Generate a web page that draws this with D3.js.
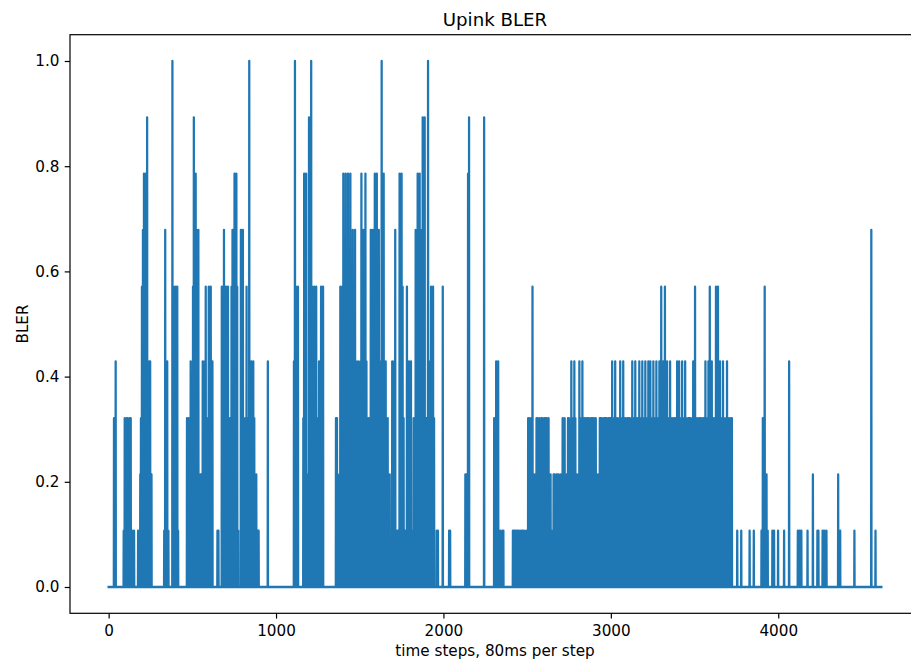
<!DOCTYPE html>
<html>
<head>
<meta charset="utf-8">
<script src="https://cdn.jsdelivr.net/npm/d3@7"></script>
<style>
  body { margin: 0; background: #ffffff; }
  svg { display: block; }
  text { font-family: "DejaVu Sans", sans-serif; fill: #000; }
</style>
</head>
<body>
<svg id="chart" width="911" height="664"></svg>
<script>
// Uplink block error rate per 80 ms step; every step not listed below is 0.
const lastStep = 4616;

// [step, BLER] for the steps where errors were recorded
const blerSpikes = [
  [32,.321],[42,.429],
  [90,.107],[96,.321],[102,.107],[108,.321],[114,.321],[120,.107],[126,.321],[132,.321],[140,.107],[152,.107],
  [176,.107],[185,.107],[189,.214],[193,.321],[199,.571],[205,.679],[211,.786],[217,.321],[222,.786],[230,.893],[236,.321],[242,.429],[248,.429],[252,.214],[256,.214],
  [332,.107],[338,.679],[344,.429],[350,.429],[357,.107],
  [381,1],[388,.571],[394,.321],[400,.571],[406,.107],[410,.571],[415,.107],
  [468,.321],[478,.321],[490,.429],[497,.321],[504,.571],[509,.893],[515,.429],[520,.786],[526,.679],[532,.321],[536,.679],[542,.107],[548,.214],[554,.214],[562,.429],[568,.214],[574,.429],[580,.571],[586,.321],[592,.321],[598,.571],[604,.214],[610,.571],[615,.429],[620,.429],
  [650,.107],[656,.107],
  [676,.571],[682,.214],[689,.679],[695,.321],[701,.571],[707,.321],[713,.571],[719,.321],[725,.321],[734,.571],[740,.679],[746,.429],[752,.786],[758,.321],[763,.786],[768,.571],[774,.107],
  [790,.679],[796,.321],[802,.679],[807,.321],[813,.214],[818,.321],[824,.571],[831,.321],[840,1],[846,.429],[852,.429],[858,.321],[864,.429],[870,.321],[876,.214],[882,.214],[890,.107],[896,.107],
  [951,.429],
  [1107,.429],[1113,1],[1119,.571],[1125,.321],[1131,.571],
  [1163,.321],[1168,.786],[1174,.321],[1180,.786],[1186,.214],[1192,.214],[1197,.893],[1203,.321],[1210,1],[1216,.571],[1222,.321],[1228,.571],[1234,.214],[1240,.571],[1246,.321],[1251,.321],[1257,.429],[1263,.321],[1269,.571],[1275,.214],[1281,.571],
  [1358,.321],[1364,.321],[1372,.107],[1378,.214],
  [1384,.571],[1390,.321],[1396,.571],[1402,.786],[1409,.429],[1416,.786],[1423,.429],[1430,.786],[1437,.321],[1444,.786],[1451,.429],[1458,.679],[1465,.321],[1472,.679],[1478,.429],[1484,.214],[1490,.429],[1496,.321],[1503,.429],[1510,.786],[1516,.321],[1522,.679],[1528,.429],[1534,.786],[1540,.429],[1547,.321],[1553,.321],
  [1566,.679],[1572,.321],[1578,.679],[1584,.429],[1590,.786],[1596,.429],[1602,.786],[1608,.321],[1614,.679],[1620,.429],[1631,1],[1637,.429],[1643,.786],[1649,.321],[1655,.429],[1661,.321],[1667,.321],[1673,.214],[1679,.214],
  [1694,.429],[1700,.321],[1706,.429],[1712,.679],[1718,.107],[1724,.107],[1730,.107],[1738,.786],[1744,.429],[1750,.786],[1756,.571],[1762,.321],[1770,.107],[1776,.107],[1782,.571],[1788,.321],[1794,.429],[1800,.321],[1806,.429],[1812,.107],[1818,.107],[1822,.321],[1828,.321],[1834,.679],[1840,.429],[1846,.786],[1852,.321],[1858,.786],[1864,.429],[1870,.679],[1876,.893],[1882,.429],[1888,.893],[1894,.321],[1900,.321],[1908,1],[1914,.429],[1920,.429],[1926,.571],[1932,.321],[1938,.571],[1944,.321],
  [1960,.107],[1967,.107],[1996,.571],[2034,.107],[2040,.107],
  [2131,.214],[2137,.214],[2147,.786],[2153,.893],
  [2243,.893],
  [2303,.321],[2309,.321],[2315,.429],[2321,.321],[2327,.429],[2333,.107],[2339,.107],[2352,.107],[2358,.107],
  [2415,.107],[2421,.107],[2427,.107],[2433,.107],[2439,.107],[2445,.107],[2451,.107],[2463,.107],[2469,.107],[2475,.107],[2481,.107],[2494,.107],[2500,.107],
  [2506,.321],[2512,.321],[2518,.214],[2524,.321],[2532,.571],[2538,.214],[2544,.214],[2550,.214],[2556,.321],[2562,.321],[2568,.214],[2574,.321],[2580,.214],[2586,.321],[2592,.321],[2598,.214],[2604,.321],[2610,.321],[2616,.321],[2622,.214],[2628,.321],[2634,.214],[2640,.214],[2646,.107],[2652,.107],
  [2658,.214],[2664,.214],[2670,.107],[2676,.214],[2682,.214],[2688,.214],[2694,.107],[2700,.214],[2706,.214],[2712,.321],[2718,.214],[2724,.321],[2730,.214],[2736,.214],[2744,.321],[2750,.321],[2756,.214],[2764,.429],[2770,.321],[2776,.321],[2782,.429],[2788,.321],[2794,.214],[2800,.214],[2806,.214],[2812,.429],[2818,.321],[2824,.321],[2830,.429],
  [2838,.321],[2844,.321],[2850,.214],[2856,.321],[2862,.321],[2868,.321],[2874,.214],[2880,.321],[2886,.321],[2892,.321],[2898,.321],[2904,.214],[2910,.321],[2916,.214],[2922,.214],[2928,.107],[2934,.321],[2940,.321],[2946,.321],[2952,.214],[2958,.321],[2964,.321],[2970,.321],[2976,.321],[2982,.214],[2988,.321],[2994,.321],[3000,.321],
  [3008,.429],[3014,.321],[3020,.321],[3026,.429],[3032,.321],[3038,.321],[3044,.214],[3050,.321],[3056,.429],[3062,.321],[3068,.321],[3074,.429],[3080,.321],[3086,.321],[3092,.214],[3098,.321],[3104,.321],[3110,.321],[3116,.214],[3122,.321],
  [3128,.429],[3134,.321],[3140,.321],[3146,.429],[3152,.321],[3158,.321],[3164,.214],[3170,.429],[3176,.321],[3182,.321],[3188,.429],[3194,.321],[3200,.321],[3206,.429],[3212,.321],[3218,.321],[3224,.429],[3230,.321],[3236,.429],[3242,.321],[3248,.214],
  [3254,.429],[3260,.321],[3266,.321],[3272,.429],[3278,.321],[3284,.321],[3290,.429],[3296,.321],[3301,.571],[3307,.321],[3313,.429],[3319,.321],[3323,.571],[3329,.321],[3336,.429],[3342,.321],[3348,.321],[3354,.429],[3360,.321],[3366,.321],[3372,.214],[3378,.321],[3384,.321],[3390,.321],
  [3396,.429],[3402,.321],[3408,.429],[3414,.321],[3420,.214],[3426,.429],[3432,.321],[3438,.321],[3444,.429],[3450,.321],[3456,.214],[3462,.321],[3468,.321],[3474,.321],[3480,.214],[3486,.321],[3492,.429],[3498,.321],[3503,.571],[3509,.321],[3515,.321],[3521,.214],
  [3527,.321],[3533,.321],[3539,.321],[3545,.214],[3551,.321],[3557,.321],[3565,.429],[3571,.321],[3577,.321],[3583,.429],[3591,.571],[3597,.321],[3603,.429],[3609,.321],[3615,.321],[3621,.214],[3628,.571],[3634,.321],[3640,.571],[3646,.321],
  [3652,.429],[3658,.321],[3664,.321],[3670,.429],[3676,.321],[3682,.214],[3688,.321],[3694,.429],[3700,.321],[3706,.321],[3712,.214],[3718,.321],[3723,.321],
  [3755,.107],[3779,.107],[3829,.107],[3854,.107],[3900,.107],[3908,.321],[3919,.571],[3930,.214],[3937,.107],
  [3965,.107],[3975,.107],[3999,.107],[4035,.107],[4065,.429],[4117,.107],[4127,.107],[4138,.107],[4175,.107],[4207,.214],
  [4234,.107],[4240,.107],[4265,.107],[4275,.107],[4288,.107],[4358,.214],[4370,.107],[4455,.107],[4556,.679],[4581,.107]
];

const xTicks = [0, 1000, 2000, 3000, 4000];
const yTicks = [0, 0.2, 0.4, 0.6, 0.8, 1.0];
const chartTitle = "Upink BLER";
const xLabel = "time steps, 80ms per step";
const yLabel = "BLER";

// full series: one value per step
const bler = new Array(lastStep + 1).fill(0);
blerSpikes.forEach(([s, v]) => { bler[s] = v; });

const svg = d3.select("#chart");
const plot = { left: 70, right: 920, top: 34.7, bottom: 613.3 };

const x = d3.scaleLinear()
  .domain([-0.05 * lastStep, 1.05 * lastStep])
  .range([plot.left, plot.right]);
const y = d3.scaleLinear()
  .domain([-0.05, 1.05])
  .range([plot.bottom, plot.top]);

const tickLen = 5.3, tickPad = 5.3, fontPx = 15.2;

// series
svg.append("path")
  .datum(bler)
  .attr("fill", "none")
  .attr("stroke", "#1f77b4")
  .attr("stroke-width", 2.27)
  .attr("stroke-linejoin", "round")
  .attr("stroke-linecap", "square")
  .attr("d", d3.line().x((d, i) => x(i)).y(d => y(d)));

// axes
const xAxis = svg.append("g")
  .attr("transform", `translate(0,${plot.bottom})`)
  .call(d3.axisBottom(x).tickValues(xTicks).tickFormat(d3.format("d"))
    .tickSize(tickLen).tickPadding(tickPad));
const yAxis = svg.append("g")
  .attr("transform", `translate(${plot.left},0)`)
  .call(d3.axisLeft(y).tickValues(yTicks).tickFormat(d3.format(".1f"))
    .tickSize(tickLen).tickPadding(tickPad));

[xAxis, yAxis].forEach(g => {
  g.select(".domain").remove();
  g.selectAll(".tick line").attr("stroke", "#000").attr("stroke-width", 1.2);
  g.selectAll(".tick text")
    .attr("font-family", "DejaVu Sans")
    .attr("font-size", fontPx)
    .attr("fill", "#000");
});
xAxis.selectAll(".tick text").attr("y", 23.2).attr("dy", "0");

// frame
svg.append("rect")
  .attr("x", plot.left).attr("y", plot.top)
  .attr("width", plot.right - plot.left).attr("height", plot.bottom - plot.top)
  .attr("fill", "none").attr("stroke", "#000").attr("stroke-width", 1.2);

const cx = (plot.left + plot.right) / 2;

svg.append("text")
  .attr("x", cx).attr("y", 25.6)
  .attr("text-anchor", "middle")
  .attr("font-size", 18.2)
  .text(chartTitle);

svg.append("text")
  .attr("x", cx).attr("y", 655.5)
  .attr("text-anchor", "middle")
  .attr("font-size", fontPx)
  .text(xLabel);

svg.append("text")
  .attr("transform", `translate(27.5,${(plot.top + plot.bottom) / 2}) rotate(-90)`)
  .attr("text-anchor", "middle")
  .attr("font-size", fontPx)
  .text(yLabel);
</script>
</body>
</html>
